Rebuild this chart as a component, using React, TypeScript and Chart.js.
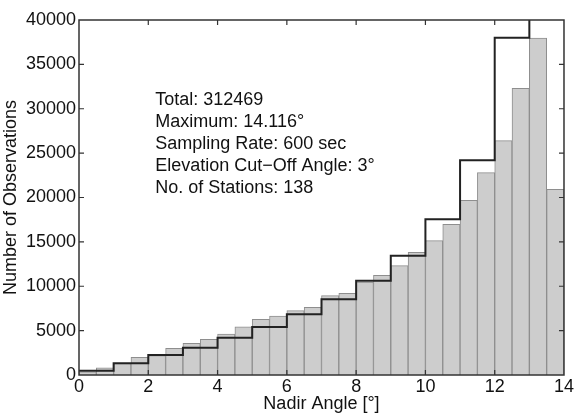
import React, { useEffect, useRef } from "react";
import { Chart, registerables } from "chart.js";

Chart.register(...registerables);

// Gray histogram: 0.5° bins (bin centres)
const grayCenters = [
  0.25, 0.75, 1.25, 1.75, 2.25, 2.75, 3.25, 3.75, 4.25, 4.75, 5.25, 5.75, 6.25, 6.75,
  7.25, 7.75, 8.25, 8.75, 9.25, 9.75, 10.25, 10.75, 11.25, 11.75, 12.25, 12.75, 13.25, 13.75,
];
const grayCounts = [
  350, 820, 1300, 2000, 2180, 3000, 3570, 4020, 4620, 5440, 6270, 6650, 7250, 7620,
  8940, 9200, 10480, 11230, 12320, 13820, 15140, 16980, 19680, 22800, 26400, 32300, 37970, 20920,
];

// Black step outline: 1° bins (left edges, final edge repeats last value)
const stepEdges = [0, 1, 2, 3, 4, 5, 6, 7, 8, 9, 10, 11, 12, 13, 14];
const stepCounts = [
  480, 1320, 2250, 3080, 4200, 5410, 6840, 8530, 10630, 13440, 17540, 24190, 38000, 46000, 46000,
];

const xTickStep = 2;
const yTickStep = 5000;
const xMin = 0;
const xMax = 14;
const yMin = 0;
const yMax = 40000;

const infoLines = [
  "Total: 312469",
  "Maximum: 14.116°",
  "Sampling Rate: 600 sec",
  "Elevation Cut\u2212Off Angle: 3°",
  "No. of Stations: 138",
];
const infoX = 2.2;
const infoY = 31000;

const FONT = "'Liberation Sans', Arial, Helvetica, sans-serif";
const FS = 18;

export default function App() {
  const ref = useRef<HTMLCanvasElement | null>(null);

  useEffect(() => {
    if (!ref.current) return;

    const framePlugin = {
      id: "framePlugin",
      afterDraw(chart: any) {
        const { ctx, chartArea } = chart;
        const xs = chart.scales.x;
        const ys = chart.scales.y;
        ctx.save();
        ctx.strokeStyle = "#333333";
        ctx.lineWidth = 1.5;
        ctx.strokeRect(chartArea.left, chartArea.top, chartArea.right - chartArea.left, chartArea.bottom - chartArea.top);
        const L = 5;
        ctx.lineWidth = 1.2;
        ctx.beginPath();
        for (const t of xs.ticks) {
          const px = xs.getPixelForValue(t.value);
          if (t.value <= xMin || t.value >= xMax) continue;
          ctx.moveTo(px, chartArea.bottom);
          ctx.lineTo(px, chartArea.bottom - L);
          ctx.moveTo(px, chartArea.top);
          ctx.lineTo(px, chartArea.top + L);
        }
        for (const t of ys.ticks) {
          const py = ys.getPixelForValue(t.value);
          if (t.value <= yMin || t.value >= yMax) continue;
          ctx.moveTo(chartArea.left, py);
          ctx.lineTo(chartArea.left + L, py);
          ctx.moveTo(chartArea.right, py);
          ctx.lineTo(chartArea.right - L, py);
        }
        ctx.stroke();

        // info text
        ctx.fillStyle = "#111111";
        ctx.font = `${FS}px ${FONT}`;
        ctx.textAlign = "left";
        ctx.textBaseline = "middle";
        const x0 = xs.getPixelForValue(infoX);
        const y0 = ys.getPixelForValue(infoY);
        infoLines.forEach((s, i) => ctx.fillText(s, x0, y0 + i * 22));
        ctx.restore();
      },
    };

    const chart = new Chart(ref.current, {
      type: "bar",
      data: {
        datasets: [
          {
            type: "line",
            label: "1° bins",
            data: stepEdges.map((x, i) => ({ x, y: stepCounts[i] })),
            stepped: "before",
            borderColor: "#222222",
            borderWidth: 2,
            pointRadius: 0,
            fill: false,
            order: 0,
          } as any,
          {
            type: "bar",
            label: "0.5° bins",
            data: grayCenters.map((x, i) => ({ x, y: grayCounts[i] })),
            backgroundColor: "#cdcdcd",
            borderColor: "#8e8e8e",
            borderWidth: 1,
            barPercentage: 1,
            categoryPercentage: 1,
            order: 1,
          } as any,
        ],
      },
      options: {
        animation: false,
        responsive: false,
        devicePixelRatio: 1,
        layout: { padding: { top: 20, right: 10, left: 0, bottom: 0 } },
        plugins: { legend: { display: false }, tooltip: { enabled: false } },
        scales: {
          x: {
            type: "linear",
            min: xMin,
            max: xMax,
            offset: false,
            grid: { display: false, drawTicks: false },
            border: { display: false },
            ticks: {
              stepSize: xTickStep,
              padding: 2,
              color: "#111111",
              font: { family: FONT, size: FS, lineHeight: 1.1 },
              callback: (v: any) => String(v),
              maxRotation: 0,
            },
            title: {
              display: true,
              text: "Nadir Angle [°]",
              color: "#111111",
              font: { family: FONT, size: FS, lineHeight: 1.1 },
              padding: 0,
            },
            afterFit: (s: any) => {
              s.height = 39;
            },
          },
          y: {
            type: "linear",
            min: yMin,
            max: yMax,
            grid: { display: false, drawTicks: false },
            border: { display: false },
            ticks: {
              stepSize: yTickStep,
              padding: 3,
              color: "#111111",
              font: { family: FONT, size: FS },
              callback: (v: any) => String(v),
            },
            title: {
              display: true,
              text: "Number of Observations",
              color: "#111111",
              font: { family: FONT, size: FS },
              padding: 0,
            },
            afterFit: (s: any) => {
              s.width = 79;
            },
          },
        },
      },
      plugins: [framePlugin],
    });

    return () => chart.destroy();
  }, []);

  return (
    <div style={{ position: "fixed", left: 0, top: 0, width: 576, height: 414, background: "#ffffff" }}>
      <canvas ref={ref} width={576} height={414} style={{ width: 576, height: 414, display: "block" }} />
    </div>
  );
}
